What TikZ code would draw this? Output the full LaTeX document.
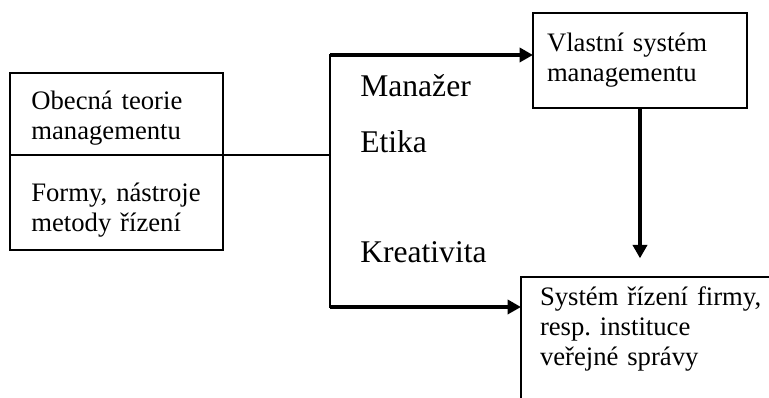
\documentclass[tikz,border=0pt]{standalone}
\usepackage{fontspec}
\setmainfont{Liberation Serif}
\usetikzlibrary{arrows.meta,positioning}
\frenchspacing

\begin{document}
\begin{tikzpicture}[x=0.75pt,y=-0.75pt,
	box/.style={draw,line width=1.8pt,outer sep=0pt,anchor=north west,align=left,inner ysep=0pt,font=\fontsize{20}{22.5}\selectfont},
	lbl/.style={anchor=base west,inner sep=0pt,font=\fontsize{23.7}{26}\selectfont},
	link/.style={line width=1.3pt},
	trunk/.style={line width=2.2pt,line cap=rect},
	flow/.style={line width=3pt,-{Triangle[length=10pt,width=10.5pt]}}]

	\clip (0,0) rectangle (769,398);

	\node[box,inner xsep=16pt,text width=127.75pt,minimum height=61.5pt,text height=20.5pt] (theory) at (10,73) {Obecná teorie\\managementu};
	\node[box,inner xsep=16pt,text width=127.75pt,minimum height=71.25pt,text depth=15pt] (forms) at (theory.south west) {Formy, nástroje\\metody řízení};

	\node[box,inner xsep=10.5pt,text width=139.5pt,minimum height=71.25pt] (own) at (533,13) {Vlastní systém\\managementu};
	\node[box,inner xsep=14.25pt,inner ysep=7.2pt,text width=180pt,text depth=120pt] (sys) at (521,277) {Systém řízení firmy,\\resp. instituce\\veřejné správy};

	\node[lbl] (manager) at (360,97) {Manažer};
	\node[lbl] (ethics) at (360,153) {Etika};
	\node[lbl] (creativity) at (360,263) {Kreativita};

	\coordinate (split) at (330,155);
	\coordinate (top) at (330,55);
	\coordinate (bot) at (330,307);

	\draw[link] (theory.south east) -- (split);
	\draw[trunk] (top) -- (bot);
	\draw[flow] (top) -- (top -| own.west);
	\draw[flow] (bot) -- (bot -| sys.west);
	\draw[flow,shorten >=14pt] (own.south) -- (own.south |- sys.north);
\end{tikzpicture}
\end{document}
